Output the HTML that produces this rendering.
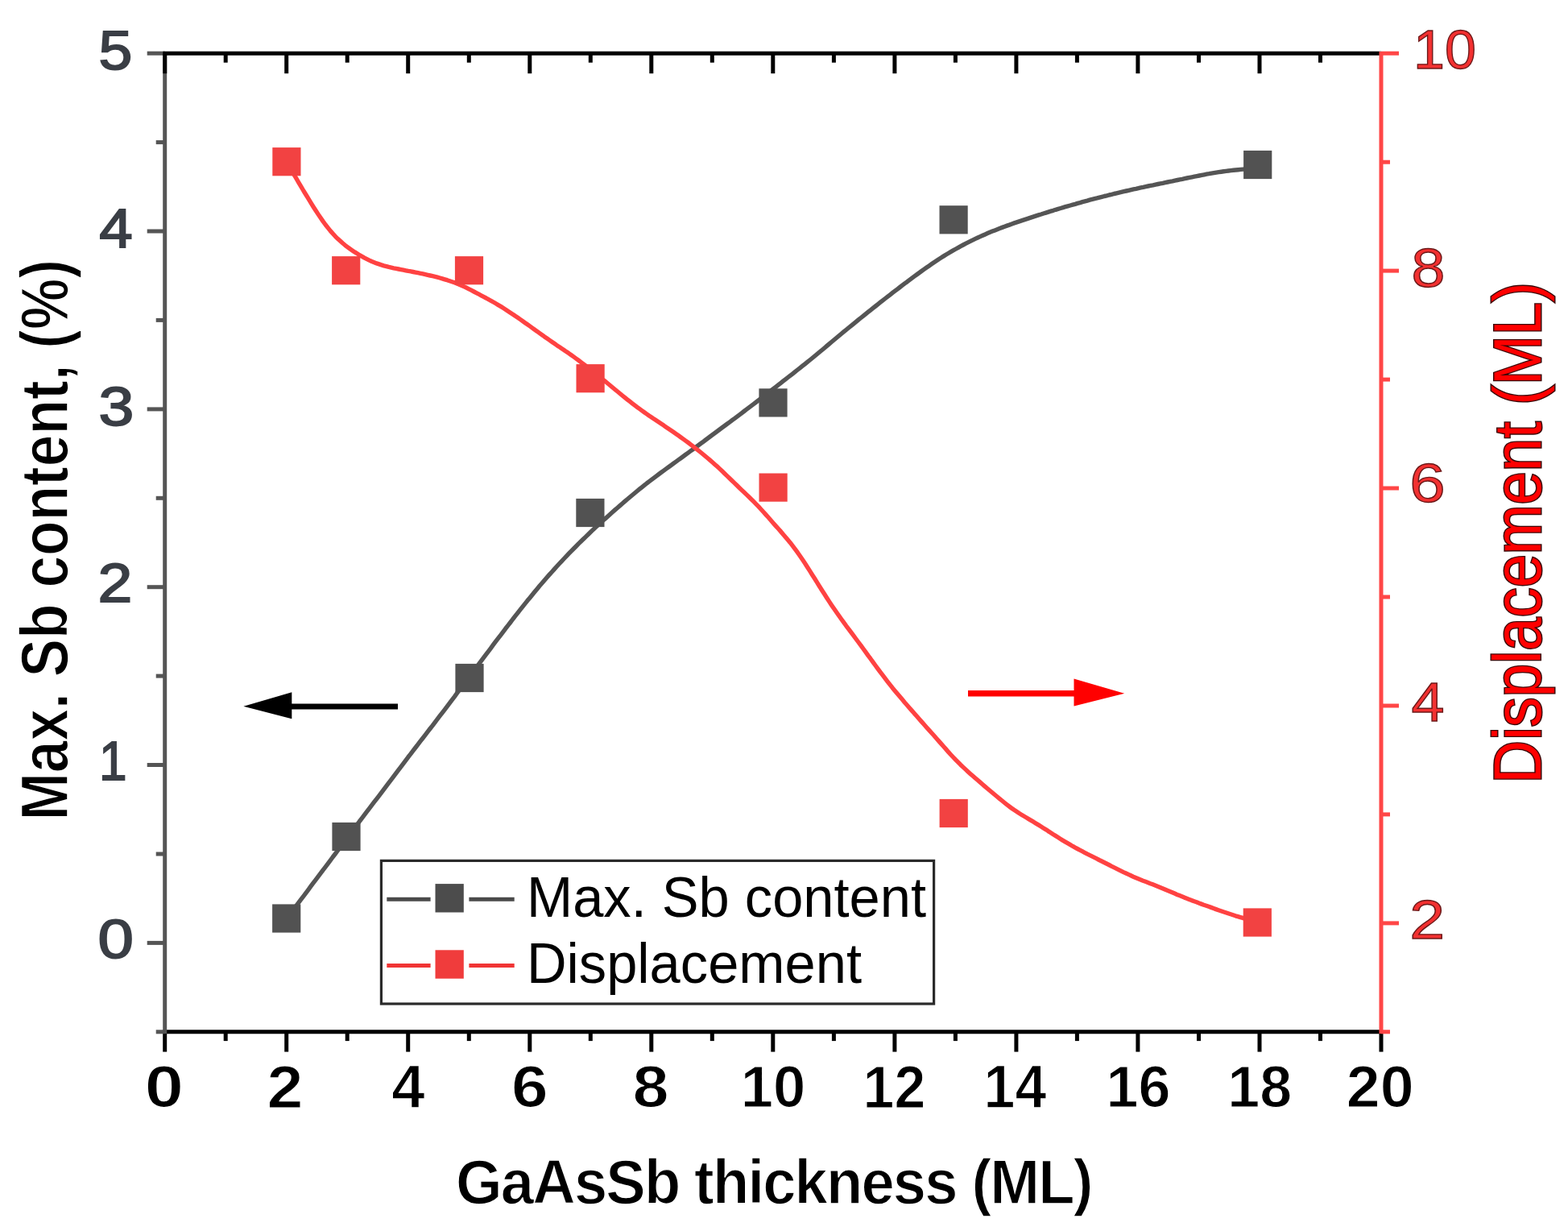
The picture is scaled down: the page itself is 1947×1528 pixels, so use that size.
<!DOCTYPE html><html><head><meta charset="utf-8"><title>GaAsSb thickness plot</title><style>html,body{margin:0;padding:0;background:#fff;overflow:hidden}svg{display:block}text{font-family:"Liberation Sans",Arial,sans-serif}</style></head><body>
<svg width="1947" height="1528" viewBox="0 0 1947 1528">
<rect width="1947" height="1528" fill="#fff"/>
<path d="M355.7,1140.3 L358.7,1136.3 L361.7,1132.3 L364.8,1128.3 L367.8,1124.3 L370.8,1120.3 L373.8,1116.3 L376.9,1112.3 L379.9,1108.3 L382.9,1104.3 L385.9,1100.2 L388.9,1096.2 L392.0,1092.2 L395.0,1088.2 L398.0,1084.2 L401.0,1080.1 L404.1,1076.1 L407.1,1072.1 L410.1,1068.1 L413.1,1064.0 L416.2,1060.0 L419.2,1056.0 L422.2,1051.9 L425.2,1047.8 L428.2,1043.8 L431.3,1039.7 L434.3,1035.7 L437.3,1031.6 L440.3,1027.6 L443.4,1023.6 L446.4,1019.5 L449.4,1015.6 L452.4,1011.6 L455.4,1007.6 L458.5,1003.6 L461.5,999.7 L464.5,995.7 L467.5,991.8 L470.6,987.8 L473.6,983.8 L476.6,979.8 L479.6,975.8 L482.6,971.8 L485.7,967.8 L488.7,963.8 L491.7,959.8 L494.7,955.8 L497.8,951.8 L500.8,947.8 L503.8,943.8 L506.8,939.8 L509.9,935.9 L512.9,931.9 L515.9,928.0 L518.9,924.1 L521.9,920.1 L525.0,916.2 L528.0,912.3 L531.0,908.4 L534.0,904.5 L537.1,900.6 L540.1,896.6 L543.1,892.7 L546.1,888.7 L549.1,884.8 L552.2,880.8 L555.2,876.8 L558.2,872.8 L561.2,868.8 L564.3,864.8 L567.3,860.7 L570.3,856.7 L573.3,852.7 L576.3,848.6 L579.4,844.6 L582.4,840.5 L585.4,836.5 L588.4,832.5 L591.5,828.4 L594.5,824.4 L597.5,820.3 L600.5,816.3 L603.5,812.3 L606.6,808.3 L609.6,804.3 L612.6,800.2 L615.6,796.2 L618.7,792.2 L621.7,788.3 L624.7,784.3 L627.7,780.3 L630.8,776.4 L633.8,772.5 L636.8,768.5 L639.8,764.7 L642.8,760.8 L645.9,756.9 L648.9,753.1 L651.9,749.4 L654.9,745.6 L658.0,741.9 L661.0,738.2 L664.0,734.5 L667.0,730.9 L670.0,727.3 L673.1,723.8 L676.1,720.3 L679.1,716.8 L682.1,713.4 L685.2,710.0 L688.2,706.6 L691.2,703.3 L694.2,700.0 L697.2,696.8 L700.3,693.5 L703.3,690.4 L706.3,687.2 L709.3,684.1 L712.4,681.0 L715.4,678.0 L718.4,674.9 L721.4,672.0 L724.5,669.0 L727.5,666.1 L730.5,663.2 L733.5,660.3 L736.5,657.4 L739.6,654.6 L742.6,651.8 L745.6,649.1 L748.6,646.3 L751.7,643.6 L754.7,640.9 L757.7,638.2 L760.7,635.5 L763.7,632.9 L766.8,630.2 L769.8,627.6 L772.8,625.0 L775.8,622.4 L778.9,619.8 L781.9,617.2 L784.9,614.7 L787.9,612.2 L790.9,609.7 L794.0,607.2 L797.0,604.8 L800.0,602.4 L803.0,600.0 L806.1,597.7 L809.1,595.4 L812.1,593.1 L815.1,590.8 L818.2,588.5 L821.2,586.3 L824.2,584.1 L827.2,581.9 L830.2,579.7 L833.3,577.5 L836.3,575.3 L839.3,573.1 L842.3,570.9 L845.4,568.7 L848.4,566.5 L851.4,564.3 L854.4,562.1 L857.4,559.9 L860.5,557.7 L863.5,555.5 L866.5,553.3 L869.5,551.0 L872.6,548.8 L875.6,546.5 L878.6,544.3 L881.6,542.0 L884.6,539.8 L887.7,537.5 L890.7,535.3 L893.7,533.0 L896.7,530.8 L899.8,528.5 L902.8,526.3 L905.8,524.1 L908.8,521.8 L911.9,519.6 L914.9,517.3 L917.9,515.1 L920.9,512.8 L923.9,510.5 L927.0,508.2 L930.0,505.9 L933.0,503.6 L936.0,501.3 L939.1,499.0 L942.1,496.7 L945.1,494.3 L948.1,492.0 L951.1,489.7 L954.2,487.3 L957.2,485.0 L960.2,482.6 L963.2,480.3 L966.3,477.9 L969.3,475.6 L972.3,473.2 L975.3,470.9 L978.3,468.5 L981.4,466.1 L984.4,463.8 L987.4,461.4 L990.4,459.0 L993.5,456.6 L996.5,454.2 L999.5,451.8 L1002.5,449.4 L1005.5,447.0 L1008.6,444.5 L1011.6,442.0 L1014.6,439.5 L1017.6,437.0 L1020.7,434.5 L1023.7,432.0 L1026.7,429.4 L1029.7,426.9 L1032.8,424.3 L1035.8,421.8 L1038.8,419.3 L1041.8,416.7 L1044.8,414.2 L1047.9,411.7 L1050.9,409.2 L1053.9,406.7 L1056.9,404.3 L1060.0,401.8 L1063.0,399.4 L1066.0,396.9 L1069.0,394.5 L1072.0,392.1 L1075.1,389.6 L1078.1,387.2 L1081.1,384.8 L1084.1,382.4 L1087.2,380.0 L1090.2,377.6 L1093.2,375.2 L1096.2,372.9 L1099.2,370.5 L1102.3,368.1 L1105.3,365.8 L1108.3,363.4 L1111.3,361.1 L1114.4,358.8 L1117.4,356.5 L1120.4,354.2 L1123.4,351.9 L1126.5,349.7 L1129.5,347.4 L1132.5,345.1 L1135.5,342.9 L1138.5,340.7 L1141.6,338.5 L1144.6,336.3 L1147.6,334.1 L1150.6,332.0 L1153.7,329.9 L1156.7,327.8 L1159.7,325.7 L1162.7,323.7 L1165.7,321.7 L1168.8,319.8 L1171.8,317.9 L1174.8,316.0 L1177.8,314.2 L1180.9,312.4 L1183.9,310.7 L1186.9,309.0 L1189.9,307.3 L1192.9,305.6 L1196.0,304.0 L1199.0,302.4 L1202.0,300.9 L1205.0,299.4 L1208.1,297.9 L1211.1,296.4 L1214.1,295.0 L1217.1,293.6 L1220.2,292.2 L1223.2,290.9 L1226.2,289.6 L1229.2,288.3 L1232.2,287.1 L1235.3,285.9 L1238.3,284.7 L1241.3,283.5 L1244.3,282.4 L1247.4,281.2 L1250.4,280.1 L1253.4,279.1 L1256.4,278.0 L1259.4,276.9 L1262.5,275.9 L1265.5,274.9 L1268.5,273.9 L1271.5,272.9 L1274.6,271.9 L1277.6,270.9 L1280.6,269.9 L1283.6,268.9 L1286.6,267.9 L1289.7,266.9 L1292.7,266.0 L1295.7,265.0 L1298.7,264.1 L1301.8,263.1 L1304.8,262.2 L1307.8,261.3 L1310.8,260.3 L1313.9,259.4 L1316.9,258.5 L1319.9,257.6 L1322.9,256.7 L1325.9,255.9 L1329.0,255.0 L1332.0,254.1 L1335.0,253.3 L1338.0,252.4 L1341.1,251.6 L1344.1,250.7 L1347.1,249.9 L1350.1,249.1 L1353.1,248.2 L1356.2,247.4 L1359.2,246.6 L1362.2,245.9 L1365.2,245.1 L1368.3,244.3 L1371.3,243.5 L1374.3,242.8 L1377.3,242.0 L1380.3,241.3 L1383.4,240.5 L1386.4,239.8 L1389.4,239.1 L1392.4,238.4 L1395.5,237.7 L1398.5,237.0 L1401.5,236.3 L1404.5,235.6 L1407.5,234.9 L1410.6,234.3 L1413.6,233.6 L1416.6,232.9 L1419.6,232.3 L1422.7,231.6 L1425.7,231.0 L1428.7,230.4 L1431.7,229.8 L1434.8,229.1 L1437.8,228.5 L1440.8,227.9 L1443.8,227.3 L1446.8,226.6 L1449.9,226.0 L1452.9,225.4 L1455.9,224.8 L1458.9,224.1 L1462.0,223.5 L1465.0,222.9 L1468.0,222.3 L1471.0,221.6 L1474.0,221.0 L1477.1,220.4 L1480.1,219.8 L1483.1,219.2 L1486.1,218.6 L1489.2,218.0 L1492.2,217.4 L1495.2,216.8 L1498.2,216.2 L1501.2,215.7 L1504.3,215.1 L1507.3,214.6 L1510.3,214.1 L1513.3,213.6 L1516.4,213.2 L1519.4,212.8 L1522.4,212.4 L1525.4,212.0 L1528.5,211.6 L1531.5,211.3 L1534.5,211.0 L1537.5,210.7 L1540.5,210.4 L1543.6,210.1 L1546.6,209.8 L1549.6,209.5 L1552.6,209.3 L1555.7,209.0 L1558.7,208.8 L1561.7,208.5" fill="none" stroke="#555" stroke-width="5.4" stroke-linejoin="round"/>
<path d="M355.9,201.0 L358.9,206.2 L361.9,211.4 L365.0,216.6 L368.0,221.7 L371.0,226.8 L374.0,231.9 L377.0,237.0 L380.1,242.0 L383.1,246.9 L386.1,251.9 L389.1,256.7 L392.2,261.5 L395.2,266.1 L398.2,270.6 L401.2,274.9 L404.2,279.0 L407.3,282.9 L410.3,286.6 L413.3,290.0 L416.3,293.3 L419.3,296.3 L422.4,299.1 L425.4,301.8 L428.4,304.3 L431.4,306.6 L434.4,308.8 L437.5,310.9 L440.5,312.9 L443.5,314.8 L446.5,316.7 L449.6,318.4 L452.6,320.1 L455.6,321.6 L458.6,323.1 L461.6,324.5 L464.7,325.7 L467.7,326.9 L470.7,327.9 L473.7,328.9 L476.7,329.8 L479.8,330.6 L482.8,331.4 L485.8,332.1 L488.8,332.8 L491.8,333.4 L494.9,334.0 L497.9,334.6 L500.9,335.2 L503.9,335.8 L507.0,336.4 L510.0,336.9 L513.0,337.5 L516.0,338.1 L519.0,338.7 L522.1,339.3 L525.1,339.9 L528.1,340.6 L531.1,341.3 L534.1,342.0 L537.2,342.7 L540.2,343.4 L543.2,344.2 L546.2,345.0 L549.2,345.9 L552.3,346.8 L555.3,347.7 L558.3,348.7 L561.3,349.7 L564.4,350.8 L567.4,352.0 L570.4,353.2 L573.4,354.5 L576.4,355.9 L579.5,357.3 L582.5,358.9 L585.5,360.4 L588.5,362.0 L591.5,363.6 L594.6,365.2 L597.6,366.8 L600.6,368.4 L603.6,370.0 L606.6,371.7 L609.7,373.3 L612.7,375.0 L615.7,376.8 L618.7,378.6 L621.8,380.4 L624.8,382.3 L627.8,384.2 L630.8,386.2 L633.8,388.2 L636.9,390.2 L639.9,392.3 L642.9,394.3 L645.9,396.4 L648.9,398.5 L652.0,400.7 L655.0,402.8 L658.0,404.9 L661.0,407.1 L664.0,409.3 L667.1,411.4 L670.1,413.6 L673.1,415.7 L676.1,417.9 L679.2,420.0 L682.2,422.1 L685.2,424.2 L688.2,426.3 L691.2,428.4 L694.3,430.4 L697.3,432.5 L700.3,434.5 L703.3,436.6 L706.3,438.6 L709.4,440.8 L712.4,442.9 L715.4,445.1 L718.4,447.3 L721.4,449.6 L724.5,451.9 L727.5,454.2 L730.5,456.5 L733.5,458.9 L736.6,461.3 L739.6,463.7 L742.6,466.2 L745.6,468.6 L748.6,471.1 L751.7,473.5 L754.7,476.0 L757.7,478.5 L760.7,481.0 L763.7,483.5 L766.8,486.0 L769.8,488.5 L772.8,491.0 L775.8,493.4 L778.8,495.8 L781.9,498.2 L784.9,500.6 L787.9,502.9 L790.9,505.2 L794.0,507.4 L797.0,509.6 L800.0,511.8 L803.0,513.9 L806.0,516.0 L809.1,518.0 L812.1,520.1 L815.1,522.1 L818.1,524.1 L821.1,526.1 L824.2,528.1 L827.2,530.2 L830.2,532.2 L833.2,534.2 L836.2,536.3 L839.3,538.4 L842.3,540.5 L845.3,542.7 L848.3,544.9 L851.4,547.1 L854.4,549.3 L857.4,551.6 L860.4,553.9 L863.4,556.3 L866.5,558.6 L869.5,561.0 L872.5,563.5 L875.5,566.0 L878.5,568.5 L881.6,571.1 L884.6,573.7 L887.6,576.4 L890.6,579.1 L893.6,581.9 L896.7,584.8 L899.7,587.7 L902.7,590.6 L905.7,593.5 L908.8,596.5 L911.8,599.4 L914.8,602.3 L917.8,605.2 L920.8,608.1 L923.9,611.0 L926.9,613.9 L929.9,616.8 L932.9,619.7 L935.9,622.7 L939.0,625.8 L942.0,628.9 L945.0,632.2 L948.0,635.5 L951.0,638.9 L954.1,642.3 L957.1,645.7 L960.1,649.2 L963.1,652.6 L966.2,656.0 L969.2,659.4 L972.2,662.9 L975.2,666.4 L978.2,670.0 L981.3,673.7 L984.3,677.6 L987.3,681.6 L990.3,685.7 L993.3,690.0 L996.4,694.5 L999.4,699.0 L1002.4,703.7 L1005.4,708.4 L1008.4,713.2 L1011.5,718.0 L1014.5,722.9 L1017.5,727.7 L1020.5,732.5 L1023.6,737.3 L1026.6,742.0 L1029.6,746.6 L1032.6,751.2 L1035.6,755.6 L1038.7,760.0 L1041.7,764.3 L1044.7,768.5 L1047.7,772.6 L1050.7,776.8 L1053.8,780.8 L1056.8,784.9 L1059.8,788.9 L1062.8,793.0 L1065.8,797.0 L1068.9,801.1 L1071.9,805.3 L1074.9,809.4 L1077.9,813.6 L1081.0,817.7 L1084.0,821.9 L1087.0,826.0 L1090.0,830.1 L1093.0,834.2 L1096.1,838.2 L1099.1,842.2 L1102.1,846.1 L1105.1,849.9 L1108.1,853.7 L1111.2,857.4 L1114.2,861.0 L1117.2,864.6 L1120.2,868.1 L1123.2,871.7 L1126.3,875.2 L1129.3,878.7 L1132.3,882.1 L1135.3,885.6 L1138.4,889.0 L1141.4,892.5 L1144.4,895.9 L1147.4,899.3 L1150.4,902.7 L1153.5,906.1 L1156.5,909.5 L1159.5,912.8 L1162.5,916.2 L1165.5,919.6 L1168.6,923.1 L1171.6,926.5 L1174.6,929.9 L1177.6,933.4 L1180.6,936.7 L1183.7,940.0 L1186.7,943.2 L1189.7,946.2 L1192.7,949.2 L1195.8,952.1 L1198.8,954.9 L1201.8,957.7 L1204.8,960.4 L1207.8,963.0 L1210.9,965.7 L1213.9,968.3 L1216.9,970.9 L1219.9,973.5 L1222.9,976.1 L1226.0,978.7 L1229.0,981.2 L1232.0,983.8 L1235.0,986.3 L1238.0,988.8 L1241.1,991.3 L1244.1,993.8 L1247.1,996.3 L1250.1,998.7 L1253.2,1001.0 L1256.2,1003.2 L1259.2,1005.3 L1262.2,1007.3 L1265.2,1009.3 L1268.3,1011.2 L1271.3,1013.0 L1274.3,1014.8 L1277.3,1016.6 L1280.3,1018.4 L1283.4,1020.2 L1286.4,1022.1 L1289.4,1023.9 L1292.4,1025.8 L1295.4,1027.7 L1298.5,1029.6 L1301.5,1031.6 L1304.5,1033.5 L1307.5,1035.5 L1310.6,1037.4 L1313.6,1039.3 L1316.6,1041.2 L1319.6,1043.1 L1322.6,1044.9 L1325.7,1046.7 L1328.7,1048.4 L1331.7,1050.2 L1334.7,1051.9 L1337.7,1053.5 L1340.8,1055.1 L1343.8,1056.7 L1346.8,1058.3 L1349.8,1059.9 L1352.8,1061.4 L1355.9,1062.9 L1358.9,1064.4 L1361.9,1065.9 L1364.9,1067.5 L1368.0,1069.0 L1371.0,1070.5 L1374.0,1072.0 L1377.0,1073.5 L1380.0,1075.1 L1383.1,1076.6 L1386.1,1078.1 L1389.1,1079.6 L1392.1,1081.1 L1395.1,1082.6 L1398.2,1084.0 L1401.2,1085.4 L1404.2,1086.8 L1407.2,1088.2 L1410.2,1089.5 L1413.3,1090.8 L1416.3,1092.0 L1419.3,1093.2 L1422.3,1094.3 L1425.4,1095.5 L1428.4,1096.7 L1431.4,1097.8 L1434.4,1099.0 L1437.4,1100.2 L1440.5,1101.5 L1443.5,1102.7 L1446.5,1104.0 L1449.5,1105.3 L1452.5,1106.5 L1455.6,1107.8 L1458.6,1109.1 L1461.6,1110.4 L1464.6,1111.6 L1467.6,1112.8 L1470.7,1114.1 L1473.7,1115.2 L1476.7,1116.4 L1479.7,1117.6 L1482.8,1118.7 L1485.8,1119.8 L1488.8,1121.0 L1491.8,1122.1 L1494.8,1123.2 L1497.9,1124.2 L1500.9,1125.3 L1503.9,1126.4 L1506.9,1127.5 L1509.9,1128.6 L1513.0,1129.7 L1516.0,1130.7 L1519.0,1131.8 L1522.0,1132.8 L1525.0,1133.8 L1528.1,1134.8 L1531.1,1135.8 L1534.1,1136.8 L1537.1,1137.7 L1540.2,1138.6 L1543.2,1139.4 L1546.2,1140.3 L1549.2,1141.1 L1552.2,1141.9 L1555.3,1142.6 L1558.3,1143.4 L1561.3,1144.1" fill="none" stroke="#ff4242" stroke-width="5.4" stroke-linejoin="round"/>
<rect x="338.1" y="1122.4" width="35.2" height="35.2" fill="#525252"/>
<rect x="412.4" y="1020.9" width="35.2" height="35.2" fill="#525252"/>
<rect x="565.4" y="823.9" width="35.2" height="35.2" fill="#525252"/>
<rect x="715.3" y="618.9" width="35.2" height="35.2" fill="#525252"/>
<rect x="942.4" y="482.3" width="35.2" height="35.2" fill="#525252"/>
<rect x="1166.5" y="255.2" width="35.2" height="35.2" fill="#525252"/>
<rect x="1544.1" y="186.9" width="35.2" height="35.2" fill="#525252"/>
<rect x="338.3" y="183.1" width="35.2" height="35.2" fill="#f24242"/>
<rect x="412.1" y="318.1" width="35.2" height="35.2" fill="#f24242"/>
<rect x="564.9" y="318.1" width="35.2" height="35.2" fill="#f24242"/>
<rect x="715.5" y="452.1" width="35.2" height="35.2" fill="#f24242"/>
<rect x="942.5" y="587.5" width="35.2" height="35.2" fill="#f24242"/>
<rect x="1166.6" y="991.9" width="35.2" height="35.2" fill="#f24242"/>
<rect x="1543.7" y="1127.4" width="35.2" height="35.2" fill="#f24242"/>
<g stroke="#000" stroke-width="5.0"><line x1="202.7" y1="1280.8" x2="1715.0" y2="1280.8"/><line x1="204.7" y1="1280.8" x2="204.7" y2="1305.6"/><line x1="280.2" y1="1280.8" x2="280.2" y2="1292.1"/><line x1="355.7" y1="1280.8" x2="355.7" y2="1305.6"/><line x1="431.2" y1="1280.8" x2="431.2" y2="1292.1"/><line x1="506.7" y1="1280.8" x2="506.7" y2="1305.6"/><line x1="582.3" y1="1280.8" x2="582.3" y2="1292.1"/><line x1="657.8" y1="1280.8" x2="657.8" y2="1305.6"/><line x1="733.3" y1="1280.8" x2="733.3" y2="1292.1"/><line x1="808.8" y1="1280.8" x2="808.8" y2="1305.6"/><line x1="884.3" y1="1280.8" x2="884.3" y2="1292.1"/><line x1="959.8" y1="1280.8" x2="959.8" y2="1305.6"/><line x1="1035.4" y1="1280.8" x2="1035.4" y2="1292.1"/><line x1="1110.9" y1="1280.8" x2="1110.9" y2="1305.6"/><line x1="1186.4" y1="1280.8" x2="1186.4" y2="1292.1"/><line x1="1261.9" y1="1280.8" x2="1261.9" y2="1305.6"/><line x1="1337.4" y1="1280.8" x2="1337.4" y2="1292.1"/><line x1="1412.9" y1="1280.8" x2="1412.9" y2="1305.6"/><line x1="1488.5" y1="1280.8" x2="1488.5" y2="1292.1"/><line x1="1564.0" y1="1280.8" x2="1564.0" y2="1305.6"/><line x1="1639.5" y1="1280.8" x2="1639.5" y2="1292.1"/><line x1="1715.0" y1="1280.8" x2="1715.0" y2="1305.6"/></g>
<g stroke="#555" stroke-width="5.0"><line x1="204.7" y1="63.9" x2="204.7" y2="1283.1"/><line x1="193.7" y1="1280.8" x2="204.7" y2="1280.8"/><line x1="182.7" y1="1170.4" x2="204.7" y2="1170.4"/><line x1="193.7" y1="1060.0" x2="204.7" y2="1060.0"/><line x1="182.7" y1="949.5" x2="204.7" y2="949.5"/><line x1="193.7" y1="839.1" x2="204.7" y2="839.1"/><line x1="182.7" y1="728.7" x2="204.7" y2="728.7"/><line x1="193.7" y1="618.3" x2="204.7" y2="618.3"/><line x1="182.7" y1="507.9" x2="204.7" y2="507.9"/><line x1="193.7" y1="397.4" x2="204.7" y2="397.4"/><line x1="182.7" y1="287.0" x2="204.7" y2="287.0"/><line x1="193.7" y1="176.6" x2="204.7" y2="176.6"/><line x1="182.7" y1="66.2" x2="204.7" y2="66.2"/></g>
<g stroke="#000" stroke-width="5.0"><line x1="202.4" y1="66.2" x2="1715.0" y2="66.2"/><line x1="204.7" y1="66.2" x2="204.7" y2="91.2"/><line x1="280.2" y1="66.2" x2="280.2" y2="77.7"/><line x1="355.7" y1="66.2" x2="355.7" y2="91.2"/><line x1="431.2" y1="66.2" x2="431.2" y2="77.7"/><line x1="506.7" y1="66.2" x2="506.7" y2="91.2"/><line x1="582.3" y1="66.2" x2="582.3" y2="77.7"/><line x1="657.8" y1="66.2" x2="657.8" y2="91.2"/><line x1="733.3" y1="66.2" x2="733.3" y2="77.7"/><line x1="808.8" y1="66.2" x2="808.8" y2="91.2"/><line x1="884.3" y1="66.2" x2="884.3" y2="77.7"/><line x1="959.8" y1="66.2" x2="959.8" y2="91.2"/><line x1="1035.4" y1="66.2" x2="1035.4" y2="77.7"/><line x1="1110.9" y1="66.2" x2="1110.9" y2="91.2"/><line x1="1186.4" y1="66.2" x2="1186.4" y2="77.7"/><line x1="1261.9" y1="66.2" x2="1261.9" y2="91.2"/><line x1="1337.4" y1="66.2" x2="1337.4" y2="77.7"/><line x1="1412.9" y1="66.2" x2="1412.9" y2="91.2"/><line x1="1488.5" y1="66.2" x2="1488.5" y2="77.7"/><line x1="1564.0" y1="66.2" x2="1564.0" y2="91.2"/><line x1="1639.5" y1="66.2" x2="1639.5" y2="77.7"/></g>
<g stroke="#ff4646" stroke-width="5.0"><line x1="1715.0" y1="63.9" x2="1715.0" y2="1283.1"/><line x1="1715.0" y1="1280.8" x2="1726.0" y2="1280.8"/><line x1="1715.0" y1="1145.9" x2="1737.0" y2="1145.9"/><line x1="1715.0" y1="1010.9" x2="1726.0" y2="1010.9"/><line x1="1715.0" y1="876.0" x2="1737.0" y2="876.0"/><line x1="1715.0" y1="741.0" x2="1726.0" y2="741.0"/><line x1="1715.0" y1="606.0" x2="1737.0" y2="606.0"/><line x1="1715.0" y1="471.1" x2="1726.0" y2="471.1"/><line x1="1715.0" y1="336.1" x2="1737.0" y2="336.1"/><line x1="1715.0" y1="201.2" x2="1726.0" y2="201.2"/><line x1="1715.0" y1="66.2" x2="1737.0" y2="66.2"/></g>
<g font-size="72" font-weight="bold" fill="#000" stroke="#fff" stroke-width="1.2"><text transform="matrix(1.2031,0,0,1.0160,179.79,1374.10)">0</text><text transform="matrix(1.1212,0,0,1.0224,331.44,1375.12)">2</text><text transform="matrix(1.0324,0,0,1.0500,486.24,1375.05)">4</text><text transform="matrix(1.1412,0,0,1.0100,635.08,1374.00)">6</text><text transform="matrix(1.1235,0,0,1.0100,785.53,1374.00)">8</text><text transform="matrix(1.0056,0,0,1.0000,919.67,1374.00)">10</text><text transform="matrix(0.9704,0,0,1.0306,1071.55,1375.03)">12</text><text transform="matrix(0.9716,0,0,1.0521,1221.54,1375.05)">14</text><text transform="matrix(0.9986,0,0,1.0100,1373.41,1374.00)">16</text><text transform="matrix(0.9986,0,0,1.0100,1524.31,1374.00)">18</text><text transform="matrix(1.0466,0,0,1.0100,1671.86,1374.00)">20</text></g>
<g font-size="70" font-weight="normal" fill="#3a3e45" stroke="#3a3e45" stroke-width="1.9"><text transform="matrix(1.1400,0,0,0.9745,121.42,1189.03)">0</text><text transform="matrix(0.8871,0,0,0.9863,123.06,967.81)">1</text><text transform="matrix(1.1000,0,0,0.9804,121.40,746.82)">2</text><text transform="matrix(1.1265,0,0,0.9824,122.45,527.92)">3</text><text transform="matrix(1.0649,0,0,0.9706,123.14,306.53)">4</text><text transform="matrix(1.0743,0,0,0.9784,122.55,85.62)">5</text></g>
<g font-size="70" font-weight="normal" fill="#f23030" stroke="#6a1818" stroke-width="1.4"><text transform="matrix(1.1273,0,0,0.9765,1750.22,1165.32)">2</text><text transform="matrix(1.0541,0,0,0.9902,1752.55,894.51)">4</text><text transform="matrix(1.1412,0,0,0.9686,1750.18,622.93)">6</text><text transform="matrix(1.0771,0,0,0.9843,1752.55,356.02)">8</text><text transform="matrix(1.0000,0,0,0.9667,1755.00,85.03)">10</text></g>
<text transform="translate(566,1494) scale(0.95,1)" font-size="78" font-weight="bold" fill="#000" stroke="#fff" stroke-width="1.3" textLength="833" lengthAdjust="spacing">GaAsSb thickness (ML)</text>
<text transform="translate(83.5,1018.6) rotate(-90)" x="0" y="0" font-size="84" font-weight="bold" fill="#000" stroke="#fff" stroke-width="1.6" textLength="696.7" lengthAdjust="spacingAndGlyphs">Max. Sb content, (%)</text>
<text transform="translate(1912.5,972.4) rotate(-90)" x="0" y="0" font-size="84" font-weight="normal" fill="#ff0000" stroke="#3a0606" stroke-width="3.0" paint-order="stroke" textLength="622" lengthAdjust="spacingAndGlyphs">Displacement (ML)</text>
<rect x="473.4" y="1068.4" width="686.2" height="177.6" fill="none" stroke="#2a2a2a" stroke-width="3.2"/>
<line x1="480.3" y1="1116.3" x2="534.6" y2="1116.3" stroke="#4a4a4a" stroke-width="5"/>
<line x1="582.4" y1="1116.3" x2="638.7" y2="1116.3" stroke="#4a4a4a" stroke-width="5"/>
<rect x="540.5" y="1097.1" width="35.3" height="35.4" fill="#4c4c4c"/>
<line x1="480.3" y1="1198.6" x2="534.6" y2="1198.6" stroke="#f03434" stroke-width="5"/>
<line x1="582.4" y1="1198.6" x2="638.7" y2="1198.6" stroke="#f03434" stroke-width="5"/>
<rect x="540.5" y="1179.3" width="35.3" height="35.4" fill="#f03c3c"/>
<text x="654" y="1138.3" font-size="70.5" fill="#000" textLength="496" lengthAdjust="spacingAndGlyphs">Max. Sb content</text>
<text x="654" y="1219.6" font-size="70.5" fill="#000" textLength="416" lengthAdjust="spacingAndGlyphs">Displacement</text>
<line x1="360" y1="877" x2="494" y2="877" stroke="#000" stroke-width="7"/>
<polygon points="302.4,876.7 362.3,859.2 362.3,892.2" fill="#000"/>
<line x1="1202" y1="860.7" x2="1336" y2="860.7" stroke="#ff0000" stroke-width="7.5"/>
<polygon points="1396.2,860.7 1333.5,842.6 1333.5,876.6" fill="#ff0000"/>
</svg></body></html>
